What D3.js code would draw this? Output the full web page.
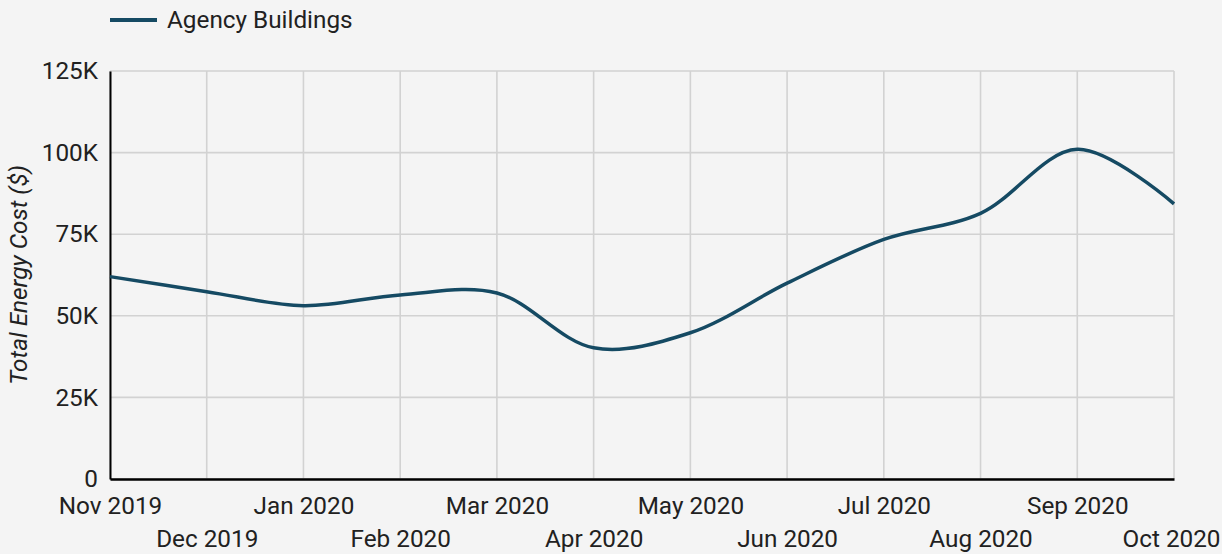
<!DOCTYPE html>
<html>
<head>
<meta charset="utf-8">
<script src="https://cdn.jsdelivr.net/npm/d3@7"></script>
<style>
  html, body { margin: 0; padding: 0; background: #f4f4f4; }
  svg { display: block; font-family: Roboto, sans-serif; }
</style>
</head>
<body>
<svg id="chart" width="1222" height="554"></svg>
<script>
const months = ["Nov 2019","Dec 2019","Jan 2020","Feb 2020","Mar 2020","Apr 2020","May 2020","Jun 2020","Jul 2020","Aug 2020","Sep 2020","Oct 2020"];
const costs = [62000, 57400, 53100, 56400, 57000, 40200, 44800, 60000, 73400, 81400, 101000, 84300];
const yTicks = [0, 25000, 50000, 75000, 100000, 125000];
const seriesName = "Agency Buildings";
const yTitle = "Total Energy Cost ($)";

const W = 1222, H = 554;
const m = { left: 110, right: 48, top: 71, bottom: 75 };
const svg = d3.select("#chart");
svg.append("rect").attr("width", W).attr("height", H).attr("fill", "#f4f4f4");

const x = d3.scalePoint().domain(months).range([m.left, W - m.right]);
const y = d3.scaleLinear().domain([0, 125000]).range([H - m.bottom, m.top]);

const textColor = "#212121";
const fs = 24.3;

// grid
const g = svg.append("g");
g.selectAll(".hg").data(yTicks).join("line")
  .attr("x1", m.left).attr("x2", W - m.right)
  .attr("y1", d => y(d)).attr("y2", d => y(d))
  .attr("stroke", "#d2d2d2").attr("stroke-width", 1.6);
g.selectAll(".vg").data(months).join("line")
  .attr("x1", d => x(d)).attr("x2", d => x(d))
  .attr("y1", m.top).attr("y2", H - m.bottom)
  .attr("stroke", "#d2d2d2").attr("stroke-width", 1.6);

// y axis
const fmt = d => d === 0 ? "0" : (d / 1000) + "K";
const yAxis = svg.append("g").attr("transform", `translate(${m.left},0)`)
  .call(d3.axisLeft(y).tickValues(yTicks).tickFormat(fmt).tickSize(0).tickPadding(12));
yAxis.select(".domain").attr("stroke", "#000").attr("stroke-width", 2);
yAxis.selectAll("text").attr("font-size", fs).attr("fill", textColor).attr("font-family", "Roboto");

// x axis
const xAxis = svg.append("g").attr("transform", `translate(0,${H - m.bottom})`)
  .call(d3.axisBottom(x).tickSize(0).tickPadding(0));
xAxis.select(".domain").attr("stroke", "#000").attr("stroke-width", 2.4);
xAxis.selectAll("text")
  .attr("font-size", fs).attr("fill", textColor).attr("font-family", "Roboto")
  .attr("dy", null)
  .attr("y", (d, i) => i % 2 === 0 ? 35 : 68);
// keep the last label inside the frame
const lastMonth = months[months.length - 1];
xAxis.selectAll(".tick").filter(d => d === lastMonth).select("text")
  .attr("text-anchor", "end")
  .attr("x", (W - 2) - x(lastMonth));

// line
const line = d3.line()
  .x((d, i) => x(months[i]))
  .y(d => y(d))
  .curve(d3.curveCatmullRom.alpha(0.5));
svg.append("path").datum(costs)
  .attr("d", line)
  .attr("fill", "none")
  .attr("stroke", "#154a63")
  .attr("stroke-width", 3.5)
  .attr("stroke-linejoin", "round");

// y title
svg.append("text")
  .attr("transform", `translate(27,${(m.top + H - m.bottom) / 2}) rotate(-90)`)
  .attr("text-anchor", "middle")
  .attr("font-size", fs)
  .attr("font-style", "italic")
  .attr("fill", textColor)
  .text(yTitle);

// legend
const lg = svg.append("g");
lg.append("line").attr("x1", 110).attr("x2", 157).attr("y1", 20).attr("y2", 20)
  .attr("stroke", "#154a63").attr("stroke-width", 4);
lg.append("text").attr("x", 167).attr("y", 28).attr("font-size", fs)
  .attr("fill", textColor).text(seriesName);
</script>
</body>
</html>
